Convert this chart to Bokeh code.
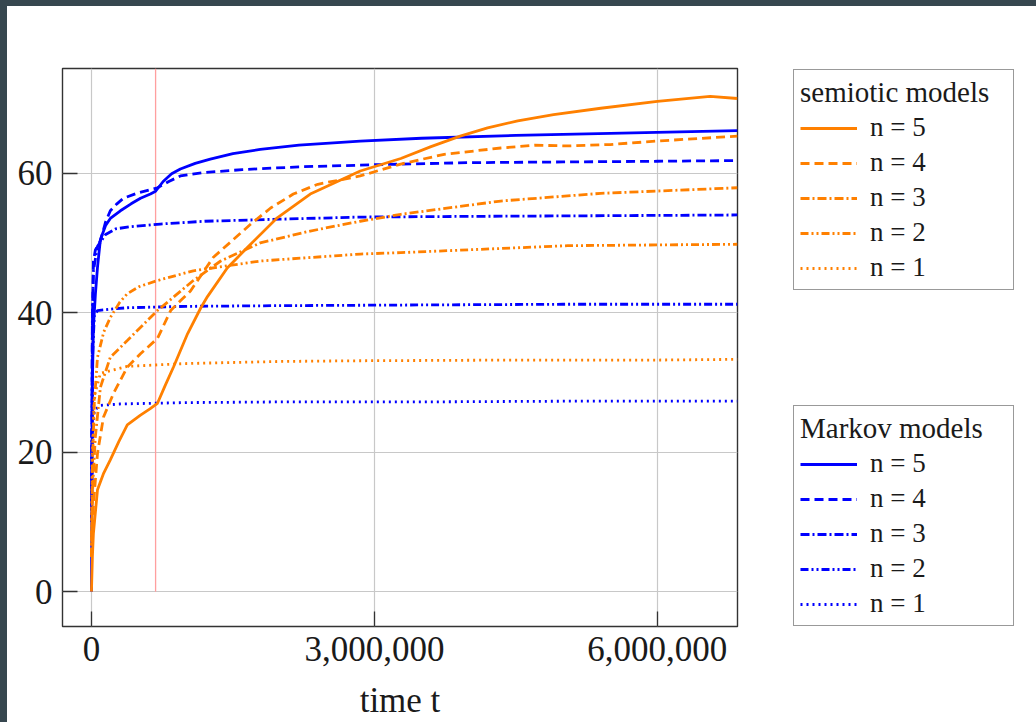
from bokeh.plotting import figure
from bokeh.layouts import row
from bokeh.models import (Range1d, FixedTicker, NumeralTickFormatter,
                          Legend, LegendItem, GlobalInlineStyleSheet)
from bokeh.embed import file_html
from bokeh.resources import INLINE

# ---------------- data ----------------
# Markov models (blue)
m5_x = [0, 10000, 21000, 42000, 64000, 95000, 150000, 200000, 307000, 420000, 520000, 625000,
        680000, 760000, 850000, 943000, 1100000, 1260000, 1500000, 1790000, 2200000, 2850000,
        3500000, 4500000, 5500000, 6850000]
m5_y = [0, 30, 38, 42.7, 46.5, 50.5, 52.5, 53.5, 54.6, 55.6, 56.4, 57.0, 57.4, 58.8, 59.9, 60.6,
        61.4, 62.0, 62.8, 63.4, 64.0, 64.6, 65.0, 65.4, 65.7, 66.1]
m4_x = [0, 10000, 21000, 42000, 95000, 150000, 200000, 270000, 340000, 500000, 700000, 820000,
        943000, 1200000, 1600000, 2200000, 3000000, 4000000, 5000000, 6000000, 6850000]
m4_y = [10, 38, 47.4, 49, 50.3, 53, 54.6, 55.6, 56.4, 57.2, 57.9, 58.8, 59.6, 60.1, 60.5, 60.9,
        61.2, 61.5, 61.6, 61.7, 61.8]
m3_x = [0, 10000, 21000, 64000, 150000, 255000, 400000, 730000, 1200000, 2000000, 2850000,
        4000000, 5500000, 6850000]
m3_y = [10, 40, 46, 49.5, 51.2, 52, 52.3, 52.7, 53.1, 53.4, 53.7, 53.8, 53.9, 54.0]
m2_x = [0, 10000, 30000, 64000, 200000, 380000, 1000000, 2000000, 3500000, 5000000, 6850000]
m2_y = [10, 33, 39.5, 40.3, 40.5, 40.7, 40.9, 41.0, 41.1, 41.2, 41.2]
m1_x = [0, 10000, 30000, 95000, 300000, 1000000, 2000000, 3500000, 5000000, 6850000]
m1_y = [10, 22, 26, 26.7, 26.9, 27.1, 27.2, 27.2, 27.3, 27.3]

# semiotic models (orange)
s5_x = [0, 10000, 21000, 64000, 130000, 200000, 290000, 380000, 520000, 620000, 700000, 780000,
        870000, 1020000, 1160000, 1230000, 1440000, 1650000, 1970000, 2320000, 2850000, 3280000,
        3600000, 3910000, 4200000, 4520000, 4900000, 5400000, 6000000, 6560000, 6850000]
s5_y = [0, 5, 8.4, 14.6, 17, 18.9, 21.5, 23.9, 25.3, 26.2, 27, 29.5, 32.2, 37, 40.7, 42.3, 46.4,
        49.3, 53.6, 57, 60.3, 62.1, 63.8, 65.3, 66.5, 67.5, 68.4, 69.3, 70.3, 71, 70.7]
s4_x = [0, 10000, 30000, 64000, 127000, 233000, 380000, 520000, 700000, 840000, 943000, 1050000,
        1290000, 1690000, 1900000, 2140000, 2400000, 2850000, 3280000, 3740000, 4340000, 4700000,
        5050000, 5500000, 6000000, 6850000]
s4_y = [5, 10, 14, 19.8, 25, 28.4, 32.2, 34.1, 36.3, 40.3, 41.7, 43.1, 47.9, 52.7, 55.0, 57,
        58.4, 59.6, 61.3, 62.7, 63.6, 64.0, 63.9, 64.1, 64.6, 65.3]
s3_x = [0, 10000, 40000, 95000, 200000, 380000, 700000, 1080000, 1370000, 1790000, 2320000,
        2850000, 3280000, 4340000, 5400000, 6850000]
s3_y = [5, 14, 22, 29.3, 33.6, 36, 40.3, 44.6, 47.4, 50, 51.7, 53.1, 54.1, 56, 57.1, 57.9]
s2_x = [0, 10000, 30000, 64000, 130000, 200000, 300000, 380000, 500000, 700000, 1080000, 1790000,
        2850000, 3280000, 5050000, 6850000]
s2_y = [5, 18, 27, 33.6, 37.2, 39.3, 41.5, 42.7, 43.7, 44.6, 46, 47.4, 48.4, 48.6, 49.6, 49.8]
s1_x = [0, 10000, 30000, 95000, 380000, 1000000, 2000000, 2850000, 4500000, 6000000, 6850000]
s1_y = [5, 20, 28, 31.3, 32.3, 32.7, 33.0, 33.1, 33.2, 33.2, 33.3]

marker_x = [680000, 680000]
marker_y = [0, 75]

x_ticks = [0, 3000000, 6000000]
y_ticks = [0, 20, 40, 60]
labels = ["n = 5", "n = 4", "n = 3", "n = 2", "n = 1"]

# ---------------- styling ----------------
FONT = "Liberation Serif"
BLUE = "#0000ff"
ORANGE = "#ff8000"
DASHES = ["solid", "9 5", "9 3 2 3", "8 3 2 3 2 3", "2 4"]
LW = 2.8
TXT = "#1a1a1a"

MAIN_W = 760
H = 716

p = figure(width=MAIN_W, height=H, output_backend="svg", toolbar_location=None,
           x_range=Range1d(-307000, 6850000), y_range=Range1d(-5, 75),
           min_border_left=55, min_border_top=62, min_border_right=MAIN_W - 730,
           min_border_bottom=95)
p.stylesheets = [GlobalInlineStyleSheet(
    css="html { background: #ffffff; border-top: 6px solid #37474f; "
        "border-left: 7px solid #37474f; overflow: hidden; } "
        "body { margin: 0; background: #ffffff; overflow: hidden; }")]
p.background_fill_color = "white"
p.border_fill_color = "white"
p.outline_line_color = "#333333"
p.outline_line_width = 1.4

for ax in (p.xaxis[0], p.yaxis[0]):
    ax.axis_line_color = None
    ax.major_tick_in = 15
    ax.major_tick_out = 0
    ax.major_tick_line_color = "#333333"
    ax.major_tick_line_width = 1.3
    ax.minor_tick_line_color = None
    ax.major_label_text_font = FONT
    ax.major_label_text_font_size = "35px"
    ax.major_label_text_color = TXT

p.xaxis[0].ticker = FixedTicker(ticks=x_ticks)
p.yaxis[0].ticker = FixedTicker(ticks=y_ticks)
p.xaxis[0].formatter = NumeralTickFormatter(format="0,0")
p.xaxis[0].major_label_standoff = 10
p.yaxis[0].major_label_standoff = 10
p.xaxis[0].axis_label = "time t"
p.xaxis[0].axis_label_text_font = FONT
p.xaxis[0].axis_label_text_font_size = "35px"
p.xaxis[0].axis_label_text_font_style = "normal"
p.xaxis[0].axis_label_text_color = TXT
p.xaxis[0].axis_label_standoff = 17

p.xgrid.ticker = FixedTicker(ticks=x_ticks)
p.ygrid.ticker = FixedTicker(ticks=y_ticks)
p.xgrid.grid_line_color = "#c8c8c8"
p.ygrid.grid_line_color = "#c8c8c8"
p.xgrid.grid_line_width = 1.2
p.ygrid.grid_line_width = 1.2

p.line(marker_x, marker_y, line_color="#ff9f9f", line_width=1.3)

markov = [(m5_x, m5_y), (m4_x, m4_y), (m3_x, m3_y), (m2_x, m2_y), (m1_x, m1_y)]
semiotic = [(s5_x, s5_y), (s4_x, s4_y), (s3_x, s3_y), (s2_x, s2_y), (s1_x, s1_y)]

for (x, y), d in zip(markov, DASHES):
    p.line(x, y, line_color=BLUE, line_width=LW, line_dash=d)
for (x, y), d in zip(semiotic, DASHES):
    p.line(x, y, line_color=ORANGE, line_width=LW, line_dash=d)

# ---------------- legend panel ----------------
LEG_W = 1029 - MAIN_W
q = figure(width=LEG_W, height=H, output_backend="svg", toolbar_location=None,
           x_axis_type=None, y_axis_type=None,
           x_range=Range1d(-20, -10), y_range=Range1d(-20, -10),
           min_border=0, min_border_left=0, min_border_right=0,
           min_border_top=0, min_border_bottom=0)
q.outline_line_color = None
q.background_fill_color = "white"
q.border_fill_color = "white"

markov_r = [q.line(x, y, line_color=BLUE, line_width=LW, line_dash=d)
            for (x, y), d in zip(markov, DASHES)]
semiotic_r = [q.line(x, y, line_color=ORANGE, line_width=LW, line_dash=d)
              for (x, y), d in zip(semiotic, DASHES)]


def make_legend(title, rends, loc):
    lg = Legend(items=[LegendItem(label=l, renderers=[r]) for l, r in zip(labels, rends)],
                title=title, location=loc, orientation="vertical")
    lg.title_text_font = FONT
    lg.title_text_font_size = "29px"
    lg.title_text_font_style = "normal"
    lg.title_text_color = TXT
    lg.title_standoff = 3
    lg.label_text_font = FONT
    lg.label_text_font_size = "27px"
    lg.label_text_color = TXT
    lg.label_height = 24
    lg.glyph_height = 24
    lg.glyph_width = 57
    lg.label_standoff = 13
    lg.label_width = 137
    lg.spacing = 4
    lg.padding = 6
    lg.margin = 0
    lg.border_line_color = "#333333"
    lg.border_line_width = 1.4
    lg.background_fill_color = "white"
    lg.background_fill_alpha = 1.0
    return lg


# q's frame is aligned with p's frame (page y 68..627); legend x offset from q's left edge
leg_x = 793 - 7 - MAIN_W
q.add_layout(make_legend("semiotic models", semiotic_r, (leg_x, 336)), "center")
q.add_layout(make_legend("Markov models", markov_r, (leg_x, 0)), "center")

layout = row(p, q, spacing=0)
open("out.html", "w").write(file_html(layout, INLINE))
